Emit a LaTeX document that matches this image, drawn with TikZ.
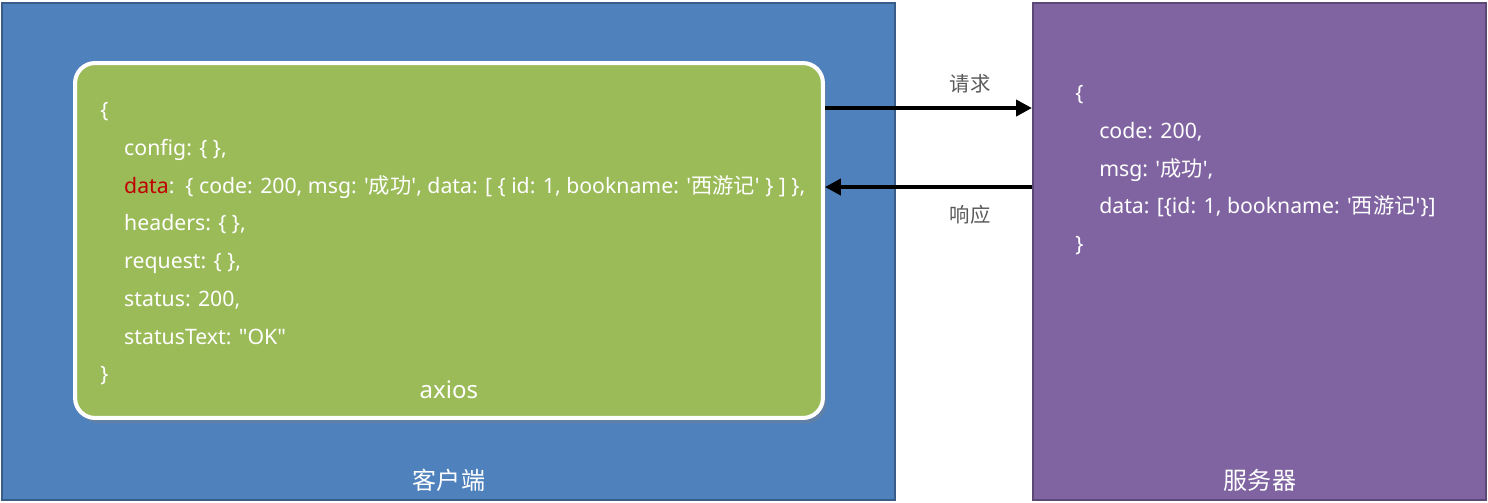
\documentclass[tikz,border=0pt]{standalone}
\usepackage{fontspec}
\setmainfont{Noto Sans}
\newfontfamily\cjk{Noto Sans CJK SC}
\usetikzlibrary{arrows.meta, positioning, shadows}
\definecolor{clientblue}{HTML}{4F81BD}
\definecolor{serverpurple}{HTML}{8064A2}
\definecolor{axiosgreen}{HTML}{9BBB59}
\definecolor{keyred}{HTML}{C00000}
\newcommand{\zh}[1]{{\cjk #1}}
\newcommand{\sq}{\textquotesingle}
\newcommand{\dq}{\textquotedbl}
\newcommand{\ind}{\hspace*{13.6pt}}

\begin{document}
\begin{tikzpicture}[
    x=0.02cm, y=-0.02cm,
    panel/.style={rectangle, draw=#1!72!black, fill=#1, line width=1.2pt, inner sep=0pt},
    axiosbox/.style={rectangle, draw=white, fill=axiosgreen, line width=2.3pt,
                     rounded corners=0.4cm, inner sep=0pt,
                     drop shadow={opacity=0.35, shadow xshift=2pt, shadow yshift=-3pt}},
    code/.style={text=white, align=left, inner sep=0pt, anchor=north west,
                 font=\fontsize{12.1}{21.5}\selectfont},
    title/.style={text=white, inner sep=0pt, font=\fontsize{13.7}{15}\selectfont},
    msglbl/.style={text=black!65, inner sep=0pt, font=\fontsize{11.6}{13}\cjk},
    arr/.style={-{Triangle[length=9pt, width=9pt]}, line width=2.3pt, black},
]
\useasboundingbox (0,0) rectangle (1488,503);

% client and server panels
\node[panel=clientblue, minimum width=17.86cm, minimum height=9.94cm] (client) at (448.5,251.5) {};
\node[panel=serverpurple, minimum width=9.06cm, minimum height=9.94cm] (server) at (1259.5,251.5) {};
\node[title] (clientlbl) at (449,480) {\zh{客户端}};
\node[title] (serverlbl) at (1260,480) {\zh{服务器}};

% axios response object
\node[axiosbox, minimum width=14.96cm, minimum height=7.1cm] (axios) at (449,240.5) {};
\node[title] (axioslbl) at (449,390) {axios};
\node[code] (resobj) at (100,102) {%
    \{\\
    \ind config: \{ \},\\
    \ind \textcolor{keyred}{data}: \,\{ code: 200, msg: \sq\zh{成功}\sq, data: [ \{ id: 1, bookname: \sq\zh{西游记}\sq\ \} ] \},\\
    \ind headers: \{ \},\\
    \ind request: \{ \},\\
    \ind status: 200,\\
    \ind statusText: \dq OK\dq\\
    \}};

% server payload
\node[code] (payload) at (1075,85) {%
    \{\\
    \ind code: 200,\\
    \ind msg: \sq\zh{成功}\sq,\\
    \ind data: [\{id: 1, bookname: \sq\zh{西游记}\sq\}]\\
    \}};

% request / response
\coordinate (reqstart) at ([yshift=2.65cm]axios.east);
\coordinate (resend) at ([yshift=1.07cm]axios.east);
\draw[arr] (reqstart) -- (reqstart -| server.west);
\draw[arr] (resend -| server.west) -- (resend);
\node[msglbl] (reqlbl) at (970,84) {请求};
\node[msglbl] (reslbl) at (970,215) {响应};
\end{tikzpicture}
\end{document}
